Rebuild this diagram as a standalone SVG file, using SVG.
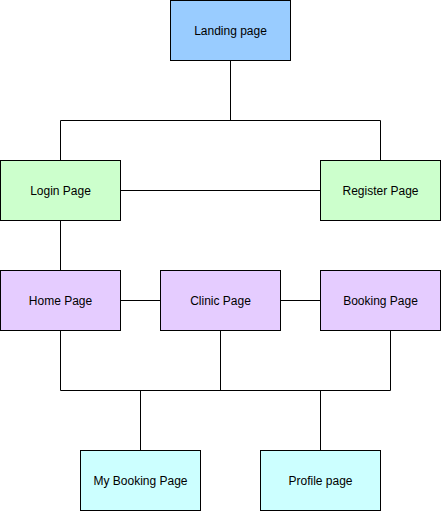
<svg xmlns="http://www.w3.org/2000/svg" width="441" height="511" viewBox="0 0 441 511">
<style>
.n rect{stroke:#000;stroke-width:1}
.n text{font-family:"Liberation Sans",Arial,Helvetica,sans-serif;font-size:12px;fill:#000;text-anchor:middle;dominant-baseline:central}
.c path{fill:none;stroke:#000;stroke-width:1}
</style>
<rect width="441" height="511" fill="#fff"/>
<g class="c" id="connectors">
<path d="M230.5 60.5V120.5M60.5 160.5V120.5H380.5V160.5"/>
<path d="M120.5 190.5H320.5"/>
<path d="M60.5 220.5V270.5"/>
<path d="M120.5 300.5H160.5"/>
<path d="M280.5 300.5H320.5"/>
<path d="M60.5 330.5V390.5H390.5V330.5M220.5 330.5V390.5"/>
<path d="M140.5 390.5V450.5M320.5 390.5V450.5"/>
</g>
<g class="n" id="landing"><rect x="170.5" y="0.5" width="120" height="60" fill="#99CCFF"/><text x="230.5" y="30.5">Landing page</text></g>
<g class="n" id="login"><rect x="0.5" y="160.5" width="120" height="60" fill="#CCFFCC"/><text x="60.5" y="190.5">Login Page</text></g>
<g class="n" id="register"><rect x="320.5" y="160.5" width="120" height="60" fill="#CCFFCC"/><text x="380.5" y="190.5">Register Page</text></g>
<g class="n" id="home"><rect x="0.5" y="270.5" width="120" height="60" fill="#E5CCFF"/><text x="60.5" y="300.5">Home Page</text></g>
<g class="n" id="clinic"><rect x="160.5" y="270.5" width="120" height="60" fill="#E5CCFF"/><text x="220.5" y="300.5">Clinic Page</text></g>
<g class="n" id="booking"><rect x="320.5" y="270.5" width="120" height="60" fill="#E5CCFF"/><text x="380.5" y="300.5">Booking Page</text></g>
<g class="n" id="mybooking"><rect x="80.5" y="450.5" width="120" height="60" fill="#CCFFFF"/><text x="140.5" y="480.5">My Booking Page</text></g>
<g class="n" id="profile"><rect x="260.5" y="450.5" width="120" height="60" fill="#CCFFFF"/><text x="320.5" y="480.5">Profile page</text></g>
</svg>
